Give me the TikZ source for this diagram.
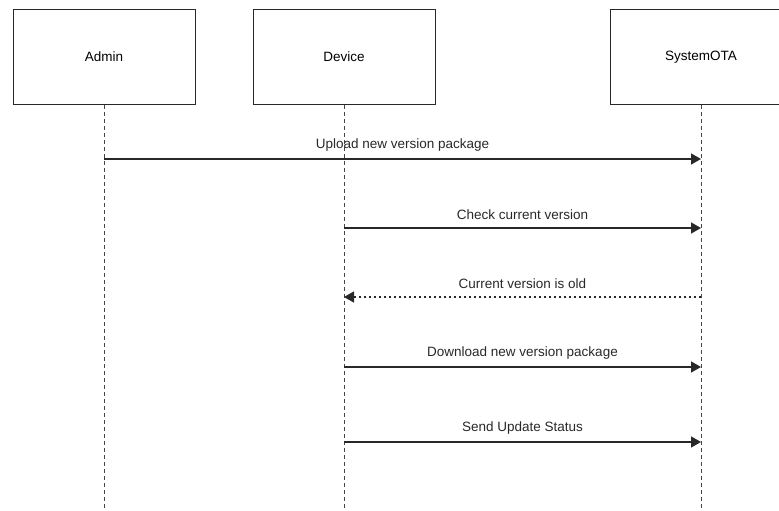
\documentclass[tikz,border=0pt]{standalone}
\usepackage{fontspec}
\setmainfont{Liberation Sans}
\usepackage{tikz}
\usetikzlibrary{arrows.meta,positioning}
\definecolor{ink}{RGB}{40,40,40}
\definecolor{dashgray}{RGB}{70,70,70}
\tikzset{
  actor/.style={draw=ink,line width=1pt,minimum width=182pt,minimum height=94pt,inner sep=0pt},
  lifeline/.style={dashgray,line width=1pt,dash pattern=on 4pt off 3pt},
  msg/.style={ink,line width=1.5pt,-{Triangle[length=10pt,width=11pt]}},
  reply/.style={msg,line width=1.4pt,dash pattern=on 2pt off 3pt}
}

\begin{document}
\begin{tikzpicture}[x=1pt,y=-1pt,font=\fontsize{13.5}{15}\selectfont]
\clip (0,0) rectangle (779,511);
\node[actor] (admin) at (104,57) {Admin};
\node[actor] (device) at (344,57) {Device};
\node[actor] (ota) at (701,57) {SystemOTA};
\coordinate (admin-end) at (104,508);
\coordinate (device-end) at (344,508);
\coordinate (ota-end) at (701,508);
\draw[lifeline] (admin.south)--(admin-end);
\draw[lifeline] (device.south)--(device-end);
\draw[lifeline] (ota.south)--(ota-end);
% messages
\coordinate (a1) at (104,159); \coordinate (o1) at (701,159);
\coordinate (d2) at (344,228); \coordinate (o2) at (701,228);
\coordinate (d3) at (344,297); \coordinate (o3) at (701,297);
\coordinate (d4) at (344,367); \coordinate (o4) at (701,367);
\coordinate (d5) at (344,442); \coordinate (o5) at (701,442);
\draw[msg] (a1)--(o1) node[midway,above=4pt,text=ink]{Upload new version package};
\draw[msg] (d2)--(o2) node[midway,above=4pt,text=ink]{Check current version};
\draw[reply] (o3)--(d3) node[midway,above=4pt,text=ink]{Current version is old};
\draw[msg] (d4)--(o4) node[midway,above=4pt,text=ink]{Download new version package};
\draw[msg] (d5)--(o5) node[midway,above=4pt,text=ink]{Send Update Status};
\end{tikzpicture}
\end{document}
